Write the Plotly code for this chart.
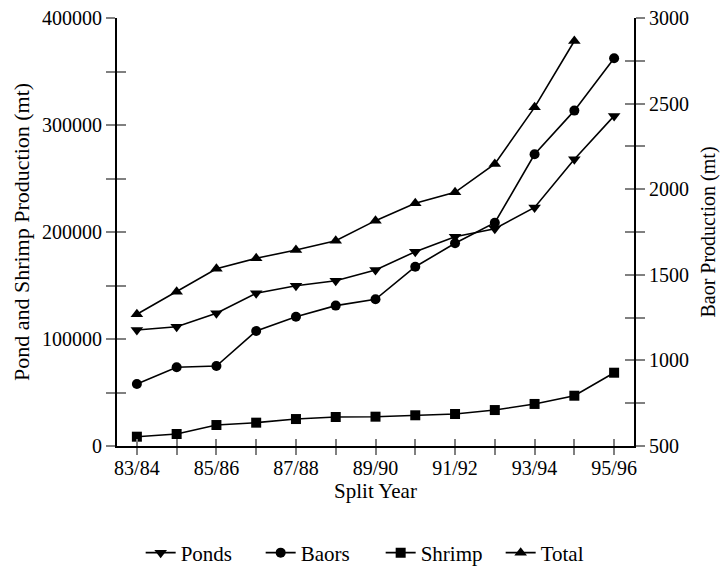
import plotly.graph_objects as go

years = ["83/84", "84/85", "85/86", "86/87", "87/88", "88/89", "89/90",
         "90/91", "91/92", "92/93", "93/94", "94/95", "95/96"]
ponds = [108400, 111500, 124000, 142700, 149800, 154500, 164500,
         181600, 195600, 203000, 223000, 268000, 308500]
baors = [862, 960, 967, 1172, 1255, 1320, 1357,
         1547, 1684, 1804, 2204, 2459, 2765]
shrimp = [8700, 11200, 19600, 21800, 25200, 27100, 27400,
          28700, 29900, 33600, 39300, 47000, 68500]
total = [123100, 144200, 165700, 175400, 183200, 191900, 210600,
         226800, 237100, 263600, 316500, 378500, None]

xticks_shown = ["83/84", "85/86", "87/88", "89/90", "91/92", "93/94", "95/96"]

FONT = "Liberation Serif"
TICKC = "#808080"
idx = list(range(len(years)))

fig = go.Figure()
line = dict(color="black", width=1.6)
fig.add_trace(go.Scatter(x=idx, y=ponds, name="Ponds", mode="lines+markers",
                         line=line, marker=dict(symbol="triangle-down", size=11, color="black")))
fig.add_trace(go.Scatter(x=idx, y=baors, name="Baors", mode="lines+markers", yaxis="y2",
                         line=line, marker=dict(symbol="circle", size=10, color="black")))
fig.add_trace(go.Scatter(x=idx, y=shrimp, name="Shrimp", mode="lines+markers",
                         line=line, marker=dict(symbol="square", size=10, color="black")))
fig.add_trace(go.Scatter(x=idx, y=total, name="Total", mode="lines+markers",
                         line=line, marker=dict(symbol="triangle-up", size=11, color="black")))
# invisible traces to activate overlay axes used for inward tick halves
fig.add_trace(go.Scatter(x=[None], y=[None], xaxis="x3", yaxis="y3", showlegend=False, hoverinfo="skip"))
fig.add_trace(go.Scatter(x=[None], y=[None], xaxis="x3", yaxis="y4", showlegend=False, hoverinfo="skip"))

xr = [-0.5, len(years) - 0.5]
tickvals_x = idx
ticktext_x = [y if y in xticks_shown else "" for y in years]
left_vals = list(range(0, 400001, 50000))
right_vals = list(range(500, 3001, 250))

fig.update_layout(
    width=720, height=570,
    margin=dict(l=117, r=86, t=18, b=124, autoexpand=False),
    paper_bgcolor="white", plot_bgcolor="white",
    font=dict(family=FONT, size=20, color="black"),
    showlegend=True,
    legend=dict(orientation="h", x=0.51, xanchor="center", y=-0.25, yanchor="middle",
                font=dict(size=21), itemwidth=30, entrywidth=75, entrywidthmode="pixels"),
    xaxis=dict(range=xr, tickvals=tickvals_x, ticktext=ticktext_x, ticks="outside",
               ticklen=7, tickwidth=2, tickcolor=TICKC, showline=True, linecolor="black",
               linewidth=2, showgrid=False, zeroline=False, tickfont=dict(size=20),
               ticklabelstandoff=-4,
               title=dict(text="Split Year", standoff=2, font=dict(size=21))),
    xaxis3=dict(range=xr, overlaying="x", tickvals=tickvals_x, ticks="inside", ticklen=7,
                tickwidth=2, tickcolor=TICKC, showticklabels=False, showline=False,
                showgrid=False, zeroline=False, side="bottom"),
    yaxis=dict(range=[0, 400000], tickvals=left_vals,
               ticktext=[str(v) if v % 100000 == 0 else "" for v in left_vals],
               ticks="outside", ticklen=9, tickwidth=2, tickcolor=TICKC, showline=True,
               linecolor="black", linewidth=2, showgrid=False, zeroline=False,
               tickfont=dict(size=20),
               title=dict(text="Pond and Shrimp Production (mt)", standoff=6, font=dict(size=22))),
    yaxis3=dict(range=[0, 400000], overlaying="y", tickvals=left_vals,
                ticks="inside", ticklen=9, tickwidth=2, tickcolor=TICKC, showticklabels=False,
                showline=False, showgrid=False, zeroline=False, side="left"),
    yaxis2=dict(range=[500, 3000], overlaying="y", side="right",
                tickvals=right_vals,
                ticktext=[str(v) if v % 500 == 0 else "" for v in right_vals],
                ticks="outside", ticklen=9, tickwidth=2, tickcolor=TICKC, showline=True,
                linecolor="black", linewidth=2, showgrid=False, zeroline=False,
                tickfont=dict(size=20),
                title=dict(text="Baor Production (mt)", standoff=21, font=dict(size=20))),
    yaxis4=dict(range=[500, 3000], overlaying="y", side="right",
                tickvals=right_vals, ticks="inside", ticklen=9, tickwidth=2,
                tickcolor=TICKC, showticklabels=False, showline=False, showgrid=False,
                zeroline=False),
)

fig.write_html("out.html")
